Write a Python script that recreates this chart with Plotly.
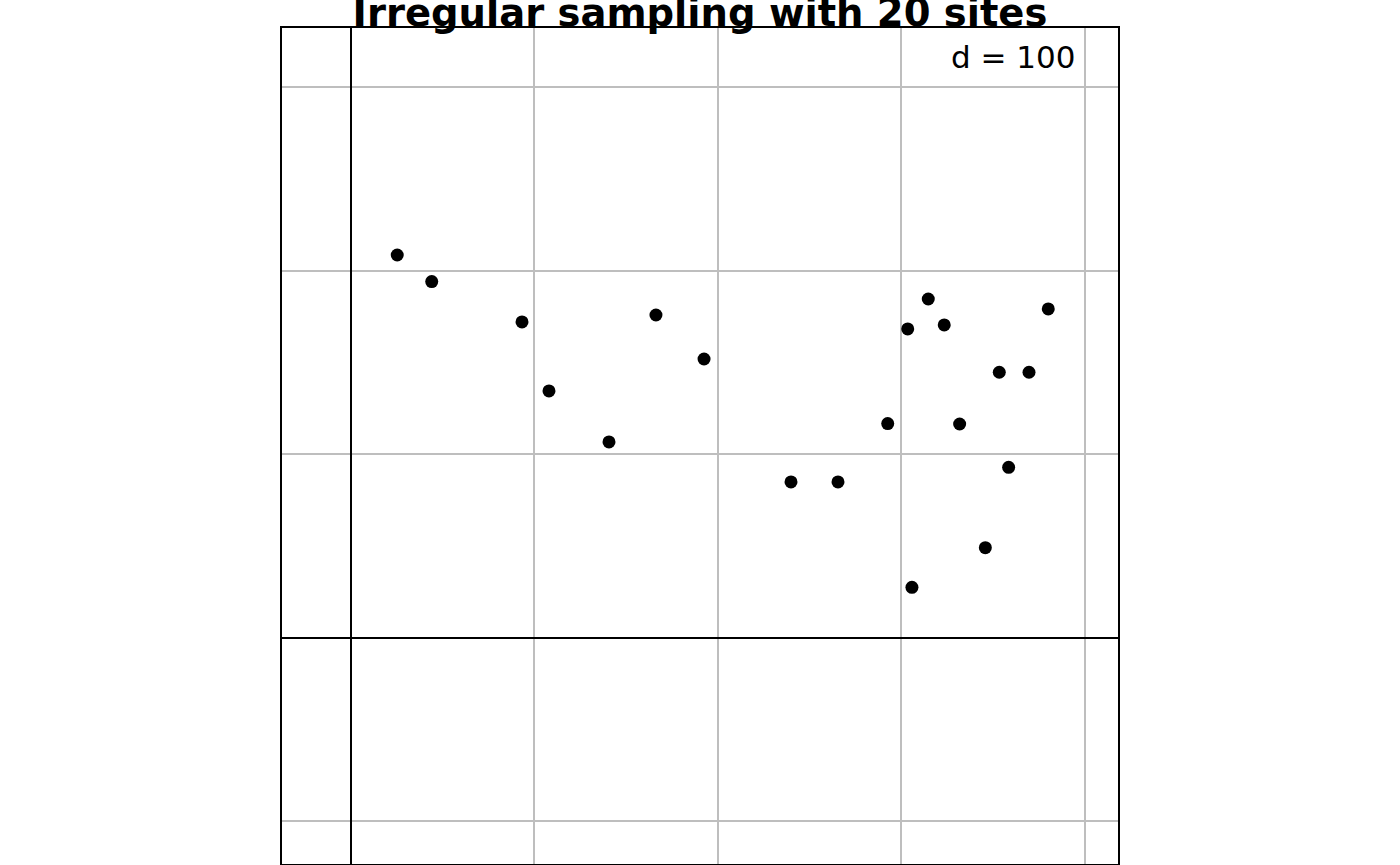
import plotly.graph_objects as go

title_text = "Irregular sampling with 20 sites"
scale_label = "d = 100"

site_x = [25.2, 44.0, 93.2, 107.9, 140.6, 166.2, 192.4, 239.8, 265.4, 292.5,
          303.4, 305.7, 314.6, 323.3, 331.7, 345.7, 353.3, 358.4, 369.5, 380.0]
site_y = [208.7, 194.2, 172.2, 134.6, 106.8, 176.0, 152.0, 85.0, 85.0, 116.8,
          168.4, 27.6, 184.7, 170.6, 116.6, 49.2, 144.8, 93.0, 144.8, 179.3]

x_range = [-37.6, 418.0]
y_range = [-123.2, 332.4]
grid_step = 100

fig = go.Figure()
fig.add_trace(go.Scatter(
    x=site_x, y=site_y, mode="markers",
    marker=dict(color="black", size=13, line=dict(width=0)),
    showlegend=False, hoverinfo="skip",
))

axis_common = dict(
    showgrid=True, gridcolor="#BEBEBE", gridwidth=1.5,
    zeroline=True, zerolinecolor="black", zerolinewidth=1.5,
    showline=True, linecolor="black", linewidth=1.5, mirror=True,
    showticklabels=False, ticks="", dtick=grid_step, tick0=0,
)

fig.update_xaxes(range=x_range, **axis_common)
fig.update_yaxes(range=y_range, **axis_common)

fig.add_annotation(
    text=scale_label, xref="paper", yref="paper", x=0.952, y=0.965,
    xanchor="right", yanchor="middle", showarrow=False,
    font=dict(family="DejaVu Sans", size=31, color="black"),
    bgcolor="white",
)

fig.update_layout(
    width=1400, height=865,
    margin=dict(l=282, r=282, t=28, b=1),
    paper_bgcolor="white", plot_bgcolor="white",
    title=dict(text="<b>" + title_text + "</b>", x=0.5, xanchor="center",
               yref="container", y=0.985, yanchor="middle",
               font=dict(family="DejaVu Sans", size=38.5, color="black")),
)

fig.write_html("out.html")
